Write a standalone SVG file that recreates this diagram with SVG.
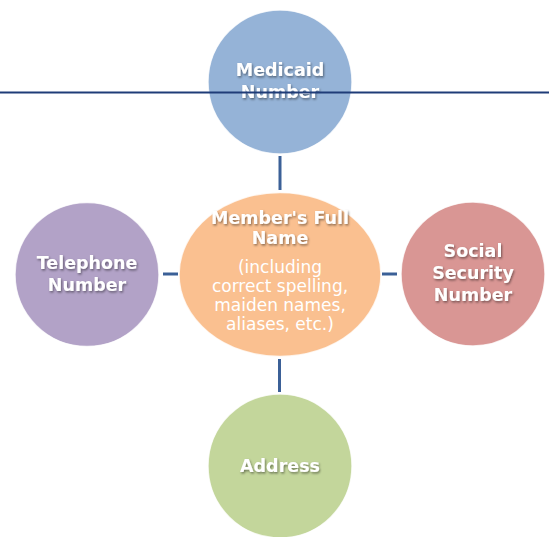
<svg xmlns="http://www.w3.org/2000/svg" width="549" height="537" viewBox="0 0 549 537">
<defs>
<style>
.node{stroke:#ffffff;stroke-width:1.5;stroke-opacity:0.8}
.t{font-family:"DejaVu Sans",sans-serif;font-weight:bold;font-size:17.5px;fill:#ffffff;text-anchor:middle;filter:url(#sh)}
.s{font-family:"DejaVu Sans",sans-serif;font-size:17px;fill:#ffffff;text-anchor:middle}
.c{stroke:#3b6097;stroke-width:3;fill:none}
</style>
<filter id="sh" x="-20%" y="-40%" width="140%" height="180%">
<feDropShadow dx="1" dy="1.5" stdDeviation="1" flood-color="#000000" flood-opacity="0.45"/>
</filter>
</defs>
<rect width="549" height="537" fill="#ffffff"/>
<g id="connectors">
<line class="c" x1="280" y1="156" x2="280" y2="190"/>
<line class="c" x1="163" y1="274" x2="178" y2="274"/>
<line class="c" x1="382" y1="274" x2="397" y2="274"/>
<line class="c" x1="279.5" y1="359" x2="279.5" y2="392"/>
</g>
<g id="medicaid">
<circle class="node" cx="280" cy="82" r="72" fill="#95b3d7"/>
<text class="t" x="280" y="76">Medicaid</text>
<text class="t" x="280" y="98">Number</text>
</g>
<g id="member">
<ellipse class="node" cx="280" cy="274.5" rx="101" ry="82" fill="#fac090"/>
<text class="t" x="280" y="224">Member's Full</text>
<text class="t" x="280" y="244">Name</text>
<text class="s" x="280" y="273">(including</text>
<text class="s" x="280" y="292">correct spelling,</text>
<text class="s" x="280" y="311">maiden names,</text>
<text class="s" x="280" y="330">aliases, etc.)</text>
</g>
<g id="telephone">
<circle class="node" cx="87" cy="274.5" r="72" fill="#b2a2c7"/>
<text class="t" x="87" y="269">Telephone</text>
<text class="t" x="87" y="291">Number</text>
</g>
<g id="ssn">
<circle class="node" cx="473" cy="274" r="72" fill="#d99694"/>
<text class="t" x="473" y="257">Social</text>
<text class="t" x="473" y="279">Security</text>
<text class="t" x="473" y="301">Number</text>
</g>
<g id="address">
<circle class="node" cx="280" cy="466" r="72" fill="#c3d69b"/>
<text class="t" x="280" y="472">Address</text>
</g>
<line x1="0" y1="92.5" x2="549" y2="92.5" stroke="#1f3c78" stroke-width="2"/>
</svg>
